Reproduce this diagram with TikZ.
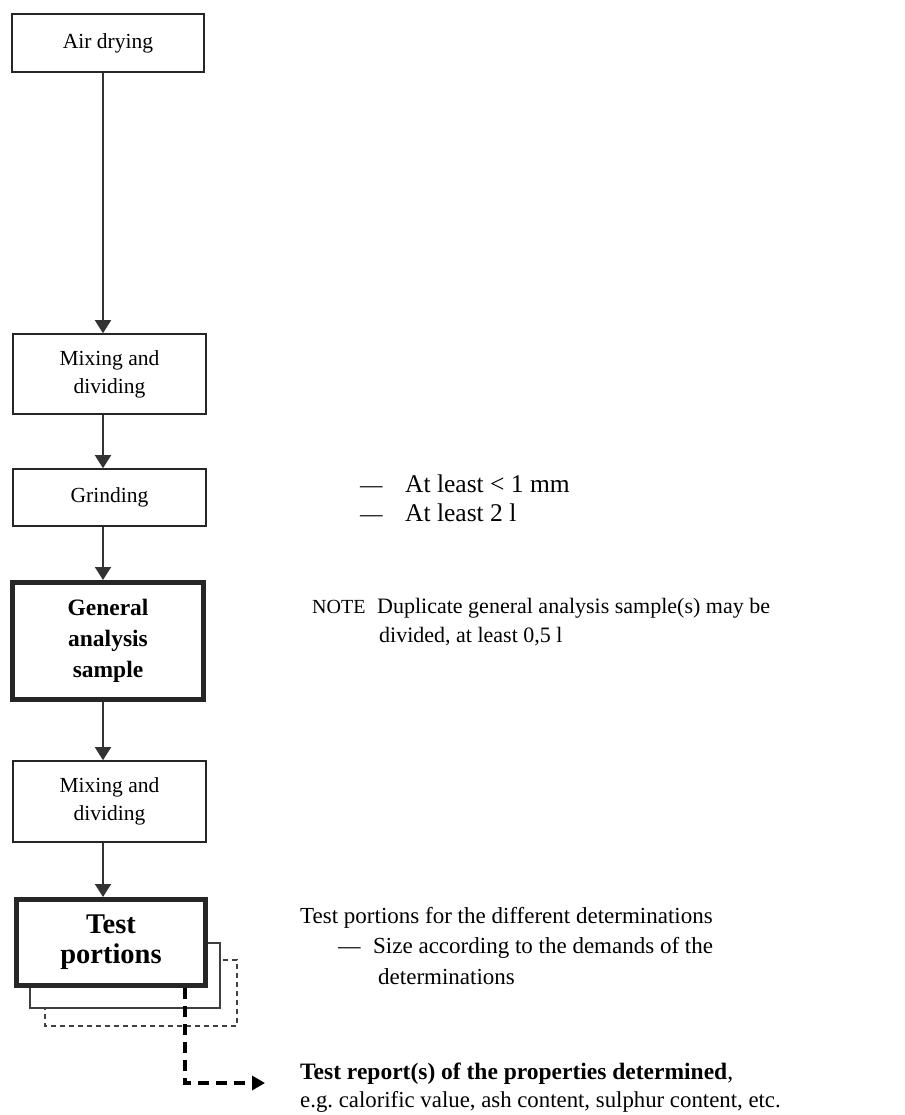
\documentclass[tikz,border=0pt]{standalone}
\usepackage{fontspec}
\setmainfont{Liberation Serif}
\usetikzlibrary{arrows.meta}
\frenchspacing
\tikzset{
  box/.style={draw=black!85, line width=1.6pt, fill=white, align=center, inner sep=0pt, font=\fontsize{21.5}{28}\selectfont},
  thickbox/.style={box, line width=5pt},
  flow/.style={draw=black!80, line width=1.8pt, -{Triangle[width=16pt,length=13pt]}},
  rtext/.style={anchor=base west, inner sep=0pt, font=\fontsize{22.5}{30}\selectfont},
}
\begin{document}
\begin{tikzpicture}[x=1pt,y=-1pt]
\useasboundingbox (0,0) rectangle (904,1115);
\coordinate (ax) at (103,0);
% back sheets
\draw[black!75, line width=1.3pt, dash pattern=on 5pt off 4pt, fill=white] (45,960) rectangle (237,1026);
\draw[black!75, line width=1.3pt, fill=white] (30,943) rectangle (220,1008);
% boxes
\node[box, minimum width=192, minimum height=58] (air) at (108,43) {Air drying};
\node[box, minimum width=193, minimum height=80] (mix1) at (109.5,374) {Mixing and\\dividing};
\node[box, minimum width=193, minimum height=57] (grind) at (109.5,497.5) {Grinding};
\node[thickbox, minimum width=191, minimum height=117, font=\fontsize{23.5}{31}\selectfont\bfseries] (gas) at (108,641) {General\\analysis\\sample};
\node[box, minimum width=193, minimum height=81] (mix2) at (109.5,801.5) {Mixing and\\dividing};
\node[thickbox, minimum width=189, minimum height=86, font=\fontsize{28.5}{30}\selectfont\bfseries] (test) at (111,942.5) {Test\\portions};
% arrows
\draw[flow] (air.south -| ax) -- (mix1.north -| ax);
\draw[flow] (mix1.south -| ax) -- (grind.north -| ax);
\draw[flow] (grind.south -| ax) -- (gas.north -| ax);
\draw[flow] (gas.south -| ax) -- (mix2.north -| ax);
\draw[flow] (mix2.south -| ax) -- (test.north -| ax);
% dashed output
\coordinate (dx) at (185,0);
\coordinate (corner) at (185,1083);
\coordinate (outend) at (265,1083);
\draw[black, line width=3.2pt, dash pattern=on 11pt off 7pt, -{Triangle[width=14pt,length=13pt]}] (test.south -| dx) -- (corner) -- (outend);
% right texts
\node[rtext] (d1) at (360,492) {---};
\node[rtext, font=\fontsize{25.5}{30}\selectfont] (t1) at (405,492) {At least < 1 mm};
\node[rtext] (d2) at (360,521) {---};
\node[rtext, font=\fontsize{25.5}{30}\selectfont] (t2) at (405,521) {At least 2 l};
\node[rtext, font=\fontsize{20}{30}\selectfont] (n1) at (312,613) {NOTE};
\node[rtext, font=\fontsize{22}{30}\selectfont] (n2) at (377,613) {Duplicate general analysis sample(s) may be};
\node[rtext, font=\fontsize{22}{30}\selectfont] (n3) at (379,642) {divided, at least 0,5 l};
\node[rtext, font=\fontsize{23}{30}\selectfont] (p1) at (300,923) {Test portions for the different determinations};
\node[rtext] (p2) at (338,953) {---};
\node[rtext, font=\fontsize{23}{30}\selectfont] (p3) at (373,953) {Size according to the demands of the};
\node[rtext, font=\fontsize{23}{30}\selectfont] (p4) at (378,984) {determinations};
\node[rtext, font=\fontsize{23.5}{30}\selectfont\bfseries] (r1) at (300,1079) {Test report(s) of the properties determined\textmd{,}};
\node[rtext, font=\fontsize{22.8}{30}\selectfont] (r2) at (300,1107) {e.g.\ calorific value, ash content, sulphur content, etc.};
\end{tikzpicture}
\end{document}
